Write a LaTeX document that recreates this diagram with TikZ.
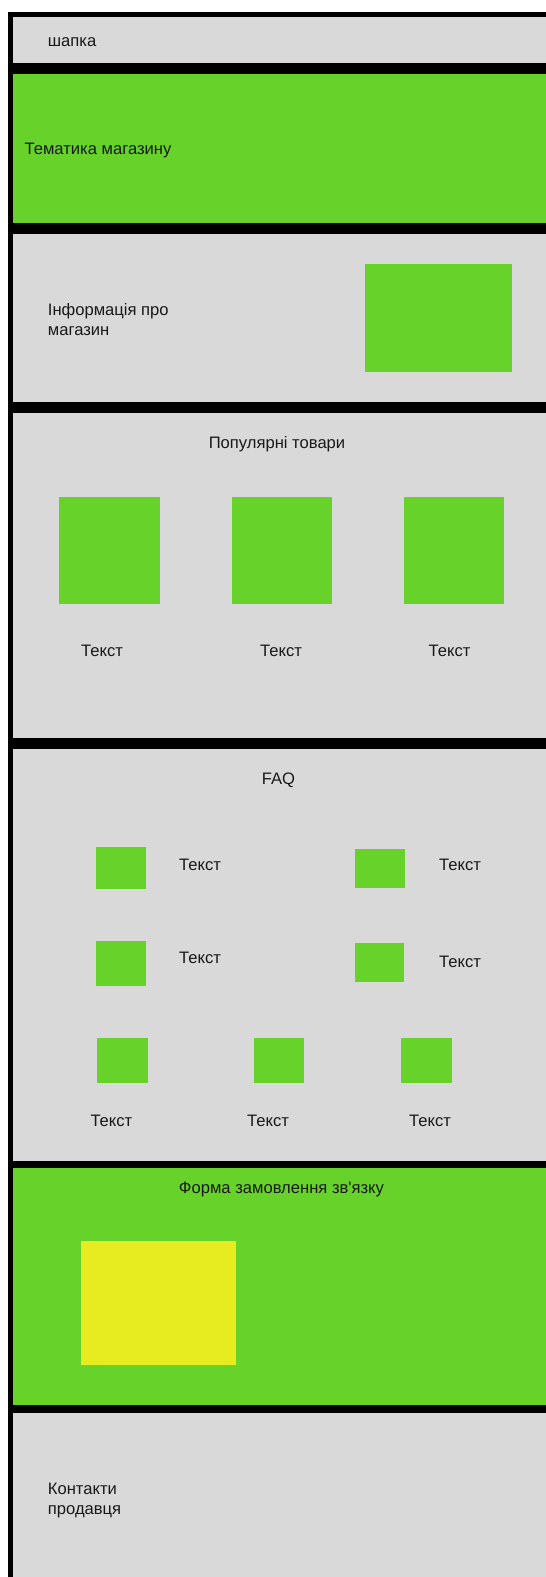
\documentclass[tikz,border=0pt]{standalone}
\usepackage{fontspec}
\setmainfont{Liberation Sans}
\usepackage{xcolor}
\usepackage{tikz}
\usetikzlibrary{positioning}

\definecolor{wfgray}{HTML}{D9D9D9}
\definecolor{wfgreen}{HTML}{67D229}
\definecolor{wfyellow}{HTML}{E6EC20}

\begin{document}
\begin{tikzpicture}[
  x=1pt,y=-1pt,
  font=\fontsize{16.6}{20}\selectfont,
  strip/.style={anchor=north west,inner sep=0pt,outer sep=0pt,minimum width=533.3pt,fill=wfgray},
  thumb/.style={inner sep=0pt,outer sep=0pt,fill=wfgreen},
  caption/.style={inner sep=0pt,text=black!90},
  leftcap/.style={caption,anchor=west,align=left}
]
\useasboundingbox (0,0) rectangle (546,1577);
\fill[white] (0,0) rectangle (546,1577);
\fill[black] (8,12) rectangle (546,1577);

\node[strip,minimum height=45.5pt] (header) at (12.7,17) {};
\node[strip,minimum height=149pt,fill=wfgreen] (theme) at (12.7,74) {};
\node[strip,minimum height=168pt] (info) at (12.7,234) {};
\node[strip,minimum height=325pt] (popular) at (12.7,413) {};
\node[strip,minimum height=412pt] (faq) at (12.7,749) {};
\node[strip,minimum height=237pt,fill=wfgreen] (order) at (12.7,1168) {};
\node[strip,minimum height=164pt] (contacts) at (12.7,1413) {};

\node[leftcap] (headertext) at (47.7,42.5) {шапка};
\node[leftcap] (themetext) at (24.4,151) {Тематика магазину};
\node[leftcap] (infotext) at (47.7,320) {Інформація про\\магазин};
\node[thumb,minimum width=147.6pt,minimum height=108pt] (infoimg) at (438.4,318) {};

\node[caption] (populartitle) at (277,444.5) {Популярні товари};
\node[thumb,minimum width=100.3pt,minimum height=107pt] (item1) at (109.4,550.5) {};
\node[thumb,minimum width=100.3pt,minimum height=107pt] (item2) at (281.7,550.5) {};
\node[thumb,minimum width=100.3pt,minimum height=107pt] (item3) at (454,550.5) {};
\node[caption] (item1text) at (102,650.5) {Текст};
\node[caption] (item2text) at (281,650.5) {Текст};
\node[caption] (item3text) at (449.5,650.5) {Текст};

\node[caption] (faqtitle) at (278.5,780.5) {FAQ};
\node[thumb,minimum width=49.8pt,minimum height=42.6pt] (faq1) at (121.3,868) {};
\node[thumb,minimum width=50.1pt,minimum height=39pt] (faq2) at (380.2,868.2) {};
\node[thumb,minimum width=49.8pt,minimum height=45.6pt] (faq3) at (121.3,963.5) {};
\node[thumb,minimum width=49.4pt,minimum height=39pt] (faq4) at (379.2,962.8) {};
\node[thumb,minimum width=50.1pt,minimum height=45pt] (faq5) at (122.5,1060.8) {};
\node[thumb,minimum width=49.1pt,minimum height=45pt] (faq6) at (279,1060.8) {};
\node[thumb,minimum width=50.1pt,minimum height=45pt] (faq7) at (426.5,1060.8) {};
\node[caption] (faq1text) at (200,864.5) {Текст};
\node[caption] (faq2text) at (460,864.5) {Текст};
\node[caption] (faq3text) at (200,958) {Текст};
\node[caption] (faq4text) at (460,962) {Текст};
\node[caption] (faq5text) at (111.4,1120.5) {Текст};
\node[caption] (faq6text) at (268.1,1120.5) {Текст};
\node[caption] (faq7text) at (430,1120.5) {Текст};

\node[caption] (ordertitle) at (281.5,1189.5) {Форма замовлення зв\textquotesingle язку};
\node[thumb,fill=wfyellow,minimum width=155.6pt,minimum height=124pt] (orderform) at (158.6,1303) {};

\node[leftcap] (contactstext) at (47.7,1500.5) {Контакти\\продавця};
\end{tikzpicture}
\end{document}
